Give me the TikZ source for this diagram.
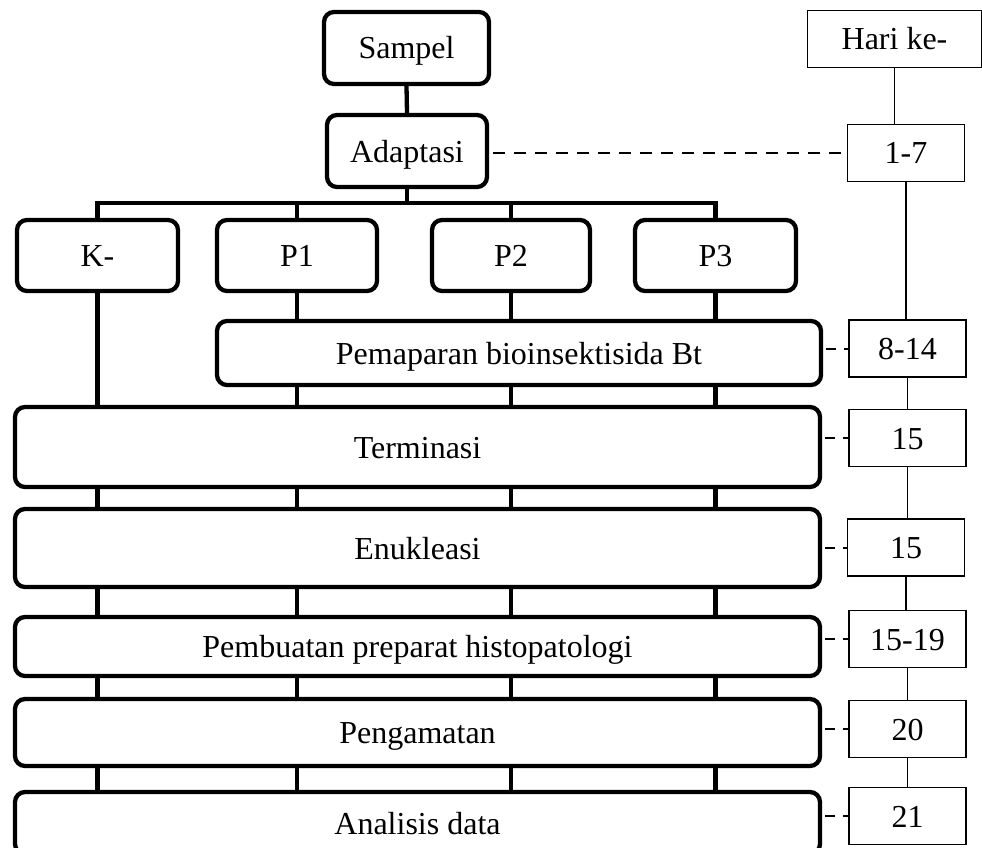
\documentclass[tikz,border=0pt]{standalone}
\usepackage{fontspec}
\setmainfont{Liberation Serif}
\begin{document}
\begin{tikzpicture}[x=1pt,y=-1pt,
  every node/.style={font=\fontsize{32}{38}\selectfont, inner sep=0pt, text height=22pt, text depth=0pt},
  tbox/.style={draw, line width=4.3pt, rounded corners=10pt, fill=white, align=center},
  hbox/.style={draw, line width=1.3pt, fill=white, minimum width=117pt, minimum height=57pt},
  link/.style={line width=4.3pt},
  thin/.style={line width=1.3pt},
  dlink/.style={line width=2pt, dash pattern=on 12pt off 9pt},
  sdlink/.style={line width=2pt, dash pattern=on 10pt off 8pt}]
\useasboundingbox (0,0) rectangle (982,848);
% left column
\node[tbox, minimum width=165pt, minimum height=72pt] (sampel) at (406.5,48) {Sampel};
\node[tbox, minimum width=160pt, minimum height=72pt] (adapt) at (407,151) {Adaptasi};
\node[tbox, minimum width=161pt, minimum height=71pt] (k) at (97.5,255.5) {K-};
\node[tbox, minimum width=160pt, minimum height=71pt] (p1) at (297,255.5) {P1};
\node[tbox, minimum width=158pt, minimum height=71pt] (p2) at (511,255.5) {P2};
\node[tbox, minimum width=161pt, minimum height=71pt] (p3) at (715.5,255.5) {P3};
\node[tbox, minimum width=604pt, minimum height=64pt] (pem) at (519,353) {Pemaparan bioinsektisida Bt};
\node[tbox, minimum width=805pt, minimum height=80pt] (term) at (417.5,447) {Terminasi};
\node[tbox, minimum width=805pt, minimum height=78pt] (enuk) at (417.5,548) {Enukleasi};
\node[tbox, minimum width=805pt, minimum height=59pt] (pemb) at (417.5,646.5) {Pembuatan preparat histopatologi};
\node[tbox, minimum width=805pt, minimum height=67pt] (peng) at (417.5,732.5) {Pengamatan};
\node[tbox, minimum width=805pt, minimum height=62pt] (anal) at (417.5,823) {Analisis data};
% right column
\node[hbox, minimum width=174pt] (hari) at (894.5,39) {Hari ke-};
\node[hbox] (d17) at (906,153) {1-7};
\node[hbox] (d814) at (907.5,348.5) {8-14};
\node[hbox] (d15a) at (907.5,438) {15};
\node[hbox] (d15b) at (906,547.5) {15};
\node[hbox] (d1519) at (907.5,639) {15-19};
\node[hbox] (d20) at (907.5,729) {20};
\node[hbox] (d21) at (907.5,816) {21};
% tree connectors
\coordinate (bus) at (407,203);
\draw[link] (sampel.south) -- (adapt.north);
\draw[link] (adapt.south) -- (bus);
\draw[link] (k.north) |- (bus) -| (p3.north);
\draw[link] (p1.north) -- (p1.north |- bus);
\draw[link] (p2.north) -- (p2.north |- bus);
\draw[link] (k.south) -- (k.south |- term.north);
\foreach \p in {p1,p2,p3} {
  \draw[link] (\p.south) -- (\p.south |- pem.north);
  \draw[link] (\p.south |- pem.south) -- (\p.south |- term.north);
}
\foreach \a/\b in {term/enuk, enuk/pemb, pemb/peng, peng/anal} {
  \foreach \p in {k,p1,p2,p3} {
    \draw[link] (\p.south |- \a.south) -- (\p.south |- \b.north);
  }
}
% day column connectors
\draw[thin] (hari.south) -- (hari.south |- d17.north);
\foreach \a/\b in {d17/d814, d814/d15a, d15a/d15b, d15b/d1519, d1519/d20, d20/d21} {
  \draw[thin] (\a.south) -- (\a.south |- \b.north);
}
% dashed links
\draw[dlink] (adapt.east |- d17.west) ++(4,0) -- (d17.west);
\foreach \a/\b in {pem/d814, term/d15a, enuk/d15b, pemb/d1519, peng/d20, anal/d21} {
  \draw[sdlink] (\a.east |- \b.west) ++(3,0) -- (\b.west);
}
\end{tikzpicture}
\end{document}
